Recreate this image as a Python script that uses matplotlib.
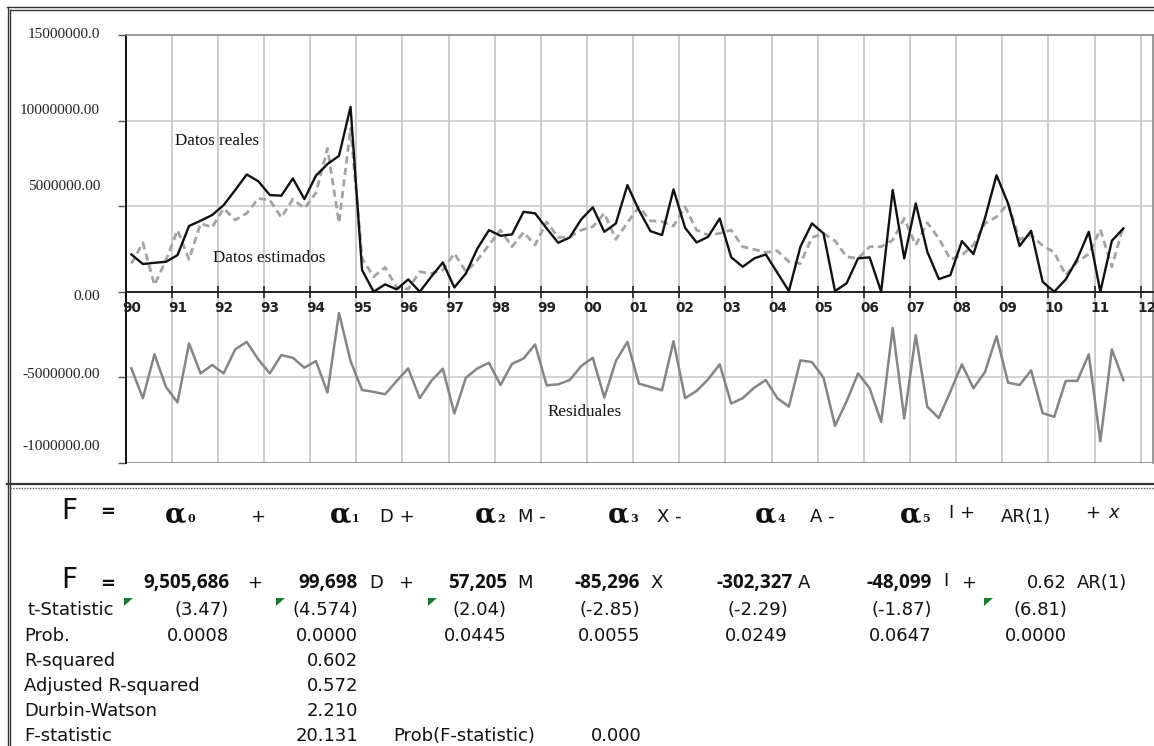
import matplotlib
matplotlib.use('Agg')
import matplotlib.pyplot as plt
from matplotlib.lines import Line2D
from matplotlib.patches import Polygon
import numpy as np

# quarterly series 1990Q1 - 2011Q3, millions
real = [2.18, 1.62, 1.69, 1.75, 2.14, 3.84, 4.15, 4.48, 5.06, 5.94, 6.85, 6.46,
        5.65, 5.61, 6.62, 5.41, 6.78, 7.46, 7.94, 10.8, 1.27, 0.0, 0.43, 0.14,
        0.72, 0.0, 0.88, 1.71, 0.25, 1.07, 2.53, 3.60, 3.27, 3.35, 4.67, 4.58,
        3.70, 2.86, 3.17, 4.23, 4.93, 3.50, 3.99, 6.23, 4.77, 3.54, 3.31, 5.98,
        3.74, 2.88, 3.21, 4.28, 2.01, 1.46, 1.95, 2.18, 1.11, 0.04, 2.63, 3.99,
        3.41, 0.04, 0.49, 1.95, 2.01, 0.0, 5.94, 1.95, 5.16, 2.34, 0.74, 0.97,
        2.96, 2.20, 4.30, 6.81, 5.16, 2.67, 3.56, 0.58, 0.0, 0.72, 1.91, 3.50,
        0.0, 2.98, 3.70]
estimated = [1.65, 2.86, 0.39, 1.85, 3.60, 1.89, 3.99, 3.76, 4.87, 4.19, 4.58, 5.45,
             5.35, 4.34, 5.41, 4.87, 5.78, 8.37, 4.03, 9.54, 1.95, 0.88, 1.42, 0.25,
             0.16, 1.17, 1.07, 1.27, 2.24, 1.17, 1.85, 2.73, 3.60, 2.63, 3.47, 2.73,
             4.09, 3.17, 3.21, 3.60, 3.80, 4.58, 3.06, 4.03, 4.96, 4.15, 4.09, 3.84,
             4.96, 3.60, 3.31, 3.41, 3.60, 2.63, 2.47, 2.30, 2.39, 1.75, 1.65, 3.17,
             3.41, 2.98, 2.04, 1.95, 2.63, 2.63, 3.02, 4.28, 2.73, 4.03, 3.12, 1.89,
             2.14, 2.73, 3.99, 4.38, 5.16, 3.06, 3.31, 2.69, 2.30, 0.97, 1.75, 2.20,
             3.64, 1.46, 3.84]
residuals = [-4.48, -6.22, -3.66, -5.56, -6.47, -3.02, -4.77, -4.28, -4.77, -3.37,
             -2.93, -3.95, -4.77, -3.70, -3.86, -4.44, -4.05, -5.89, -1.24, -4.05,
             -5.74, -5.85, -5.99, -5.21, -4.48, -6.22, -5.21, -4.50, -7.11, -5.02,
             -4.48, -4.15, -5.45, -4.21, -3.90, -3.08, -5.47, -5.41, -5.16, -4.34,
             -3.86, -6.18, -4.05, -2.93, -5.37, -5.56, -5.76, -2.89, -6.22, -5.79,
             -5.12, -4.24, -6.53, -6.22, -5.60, -5.16, -6.22, -6.71, -4.01, -4.11,
             -5.02, -7.83, -6.41, -4.77, -5.64, -7.60, -2.11, -7.40, -2.54, -6.72,
             -7.38, -5.83, -4.24, -5.64, -4.69, -2.60, -5.31, -5.45, -4.59, -7.09,
             -7.31, -5.21, -5.21, -3.66, -8.74, -3.37, -5.17]

years = list(range(1990, 2013))
year_labels = ['%02d' % (y % 100) for y in years]
y_ticks = [-10e6, -5e6, 0, 5e6, 10e6, 15e6]
y_labels = ['-1000000.00', '-5000000.00', '0.00', '5000000.00', '10000000.00', '15000000.0']
y_label_pos = [447, 374, 297, 187, 110, 35]   # pixel rows of the hand-placed labels

W, H = 1154, 746
t = 1990.125 + 0.25 * np.arange(len(real))
real = np.array(real) * 1e6
estimated = np.array(estimated) * 1e6
residuals = np.array(residuals) * 1e6

fig = plt.figure(figsize=(W / 100, H / 100), dpi=100)
ax = fig.add_axes([125.6 / W, 1 - 462.9 / H, 1027.1 / W, 427.9 / H])


def px(x, y):
    return x / W, 1 - y / H


def ftext(x, y, s, **kw):
    fx, fy = px(x, y)
    fig.text(fx, fy, s, **kw)


# ---- chart ----
ax.set_xlim(1990, 2012.26)
ax.set_ylim(-10e6, 15e6)
for y in years[1:]:
    ax.axvline(y, color='#c8c8c8', lw=1.3, zorder=0)
for v in [-5e6, 5e6, 10e6]:
    ax.axhline(v, color='#c8c8c8', lw=1.1, zorder=0)
ax.axhline(-10e6, color='#8a8a8a', lw=1.2, zorder=1)

ax.plot(t, estimated, color='#a3a3a3', lw=2.0, ls=(0, (2.6, 1.6)), zorder=3)
ax.plot(t, real, color='#111111', lw=1.7, zorder=4)
ax.plot(t, residuals, color='#858585', lw=1.8, zorder=3)

ax.spines['bottom'].set_position(('data', 0))
ax.spines['bottom'].set_color('#222222')
ax.spines['bottom'].set_linewidth(1.4)
ax.spines['left'].set_color('#111111')
ax.spines['left'].set_linewidth(1.4)
for s in ['top', 'right']:
    ax.spines[s].set_color('#8a8a8a')
    ax.spines[s].set_linewidth(1.2)

ax.set_xticks(years)
ax.set_xticklabels([])
ax.tick_params(axis='x', direction='inout', length=8, width=1.2, color='#222222')
ax.set_yticks(y_ticks)
ax.set_yticklabels([])
ax.tick_params(axis='y', direction='out', length=6, width=1.0, color='#555555')

for y, lab in zip(years, year_labels):
    ax.text(y + 0.13, -0.95e6, lab, ha='center', va='center',
            fontsize=9.8, fontweight='bold', color='#222222', family='DejaVu Sans',
            clip_on=False)

for lab, ypix in zip(y_labels, y_label_pos):
    ftext(100, ypix, lab, ha='right', va='center', fontsize=11,
          family='Liberation Serif', color='#222222')

ftext(175, 141, 'Datos reales', ha='left', va='center', fontsize=12.3,
      family='Liberation Serif', color='#111111')
ftext(213, 258, 'Datos estimados', ha='left', va='center', fontsize=12.3,
      family='Liberation Serif', color='#111111')
ftext(548, 412, 'Residuales', ha='left', va='center', fontsize=12.3,
      family='Liberation Serif', color='#111111')

# ---- frames ----
def hline(y, x0, x1, **kw):
    fig.add_artist(Line2D([x0 / W, x1 / W], [1 - y / H, 1 - y / H],
                          transform=fig.transFigure, **kw))


def vline(x, y0, y1, **kw):
    fig.add_artist(Line2D([x / W, x / W], [1 - y0 / H, 1 - y1 / H],
                          transform=fig.transFigure, **kw))


hline(7, 7, W, color='#333333', lw=1.0)
hline(9.5, 10, W, color='#333333', lw=1.0)
vline(7.5, 7, H, color='#333333', lw=1.0)
vline(10, 9.5, H, color='#333333', lw=1.0)
hline(484, 7, W, color='#333333', lw=1.6)
hline(488, 10, W, color='#555555', lw=1.0, ls=(0, (1, 1)))

# ---- equation table ----
sans = 'DejaVu Sans'
reg = dict(family=sans, fontsize=13, color='#111111', va='baseline')
bold_num = dict(family='Open Sans', fontweight='bold', fontsize=13.6,
                color='#111111', va='baseline', ha='right')

# row 1: symbolic form
ftext(61, 519, 'F', family=sans, fontsize=20, color='#111111', va='baseline')
ftext(100, 517, '=', family=sans, fontsize=13, fontweight='bold', color='#111111', va='baseline')
alpha_x = [165, 330, 475, 608, 755, 900]
for k, ax0 in enumerate(alpha_x):
    ftext(ax0, 522, '\u03b1', family='DejaVu Serif', fontweight='bold', fontsize=20,
          color='#111111', va='baseline')
    ftext(ax0 + 22, 522, str(k), family='DejaVu Serif', fontweight='bold', fontsize=8,
          color='#111111', va='baseline')
ftext(250, 522, '+', **reg)
ftext(380, 522, 'D +', **reg)
ftext(518, 522, 'M -', **reg)
ftext(657, 522, 'X -', **reg)
ftext(810, 522, 'A -', **reg)
ftext(949, 518, 'I +', **reg)
ftext(1001, 522, 'AR(1)', **reg)
ftext(1085, 518, '+', **reg)
ftext(1108, 518, 'x', family=sans, fontsize=13, style='italic', color='#111111', va='baseline')

# row 2: estimates
coef_text = ['9,505,686', '99,698', '57,205', '-85,296', '-302,327', '-48,099']
coef_right = [229, 358, 507, 640, 793, 932]
ftext(61, 588, 'F', family=sans, fontsize=20, color='#111111', va='baseline')
ftext(100, 589, '=', family=sans, fontsize=13, fontweight='bold', color='#111111', va='baseline')
for s, xr in zip(coef_text, coef_right):
    ftext(xr, 588, s, **bold_num)
ftext(247, 588, '+', **reg)
ftext(369, 588, 'D', **reg)
ftext(398, 588, '+', **reg)
ftext(517, 588, 'M', **reg)
ftext(650, 588, 'X', **reg)
ftext(798, 588, 'A', **reg)
ftext(943, 586, 'I', **reg)
ftext(961, 588, '+', **reg)
ftext(1067, 588, '0.62', ha='right', **reg)
ftext(1077, 588, 'AR(1)', **reg)

# rows 3-4: t statistics and probabilities
col_right = [229, 358, 507, 640, 788, 932, 1067]
t_stats = ['(3.47)', '(4.574)', '(2.04)', '(-2.85)', '(-2.29)', '(-1.87)', '(6.81)']
probs = ['0.0008', '0.0000', '0.0445', '0.0055', '0.0249', '0.0647', '0.0000']
ftext(27, 615, 't-Statistic', **reg)
ftext(24, 641, 'Prob.', **reg)
for xr, s1, s2 in zip(col_right, t_stats, probs):
    ftext(xr, 615, s1, ha='right', **reg)
    ftext(xr, 641, s2, ha='right', **reg)

for x0 in [124, 276, 428, 984]:
    verts = [px(x0, 598), px(x0 + 9, 598), px(x0, 606)]
    fig.add_artist(Polygon(verts, closed=True, transform=fig.transFigure,
                           facecolor='#1a7a30', edgecolor='none'))

# rows 5-8: fit statistics
stat_names = ['R-squared', 'Adjusted R-squared', 'Durbin-Watson', 'F-statistic']
stat_values = ['0.602', '0.572', '2.210', '20.131']
stat_base = [666, 691, 716, 741]
for name, val, yb in zip(stat_names, stat_values, stat_base):
    ftext(24, yb, name, **reg)
    ftext(358, yb, val, ha='right', **reg)
ftext(393, 741, 'Prob(F-statistic)', **reg)
ftext(642, 741, '0.000', ha='right', **reg)

fig.savefig('out.png', dpi=100)
plt.close(fig)
print('Saved: out.png')
